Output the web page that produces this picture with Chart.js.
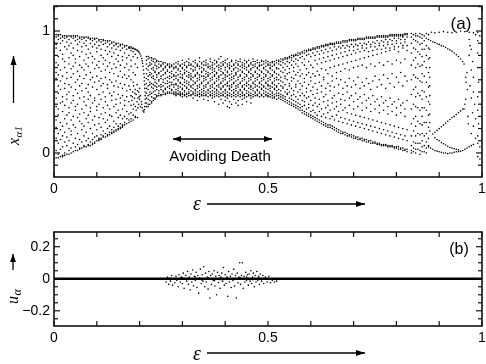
<!DOCTYPE html>
<html><head><meta charset="utf-8">
<script src="https://cdn.jsdelivr.net/npm/chart.js@4.4.0/dist/chart.umd.min.js"></script>
<style>
html,body{margin:0;padding:0;background:#fff;width:486px;height:364px;overflow:hidden}
#c1{position:absolute;left:0;top:0}
#c2{position:absolute;left:0;top:215px}
</style></head><body>
<canvas id="c1" width="486" height="215"></canvas>
<canvas id="c2" width="486" height="149"></canvas>
<script>
// ================= DATA =================
// Panel (a): columns [epsilon, x_alpha1 values in hundredths]
const colsChaosLeft = [
[0.000,[97,96,94,91,83,76,70,58,51,47,33,29,18,10,4,-2,-5]],
[0.005,[97,95,89,86,74,66,61,45,38,27,21,12,2,-4]],
[0.010,[97,96,93,79,72,64,55,49,36,31,16,8,-1,-4]],
[0.015,[97,94,90,84,68,59,52,41,25,19,11,3,-3]],
[0.020,[96,95,92,81,77,63,46,42,34,22,14,5,-2,-3]],
[0.025,[96,94,87,75,70,57,53,39,28,17,9,0,-2]],
[0.030,[96,95,91,85,66,61,48,44,31,24,13,6,-1]],
[0.035,[96,93,88,78,73,56,50,37,33,20,10,2,-1]],
[0.040,[96,95,90,82,69,62,54,41,27,18,15,4,0]],
[0.045,[96,94,86,80,71,65,47,43,30,23,8,1]],
[0.050,[96,95,92,77,74,58,52,38,35,21,12,5,2]],
[0.055,[96,93,89,84,67,60,49,40,29,16,7,2]],
[0.060,[95,94,91,79,72,63,55,45,32,26,11,4,3]],
[0.065,[95,93,87,83,70,57,51,36,24,19,9,4]],
[0.070,[95,94,90,76,68,61,46,42,33,22,14,6,5]],
[0.075,[95,92,88,81,73,64,53,39,28,17,10,5]],
[0.080,[95,94,85,78,71,56,50,44,31,25,12,7,6]],
[0.085,[94,93,90,82,66,60,47,37,34,20,9,6]],
[0.090,[94,92,87,79,74,62,54,41,27,16,11,8,7]],
[0.095,[94,93,89,77,69,58,45,43,30,23,13,9,8]],
[0.100,[94,91,86,83,72,63,52,38,35,19,14,10]],
[0.105,[93,92,88,75,70,59,48,40,29,24,12,11,10]],
[0.110,[93,91,85,80,67,61,55,44,32,21,15,12,11]],
[0.115,[93,92,89,78,73,57,50,37,28,18,14,13]],
[0.120,[92,90,84,76,68,62,46,42,33,25,16,13]],
[0.125,[92,91,87,81,71,56,53,39,27,20,15,14]],
[0.130,[92,89,83,74,66,60,49,36,31,22,17,15]],
[0.135,[91,90,86,79,69,58,47,43,30,19,17,16]],
[0.140,[91,88,82,73,65,55,50,38,26,21,18,17]],
[0.145,[90,89,85,77,70,59,44,40,33,24,19,18]],
[0.150,[90,87,80,75,63,54,48,35,29,22,20,19]],
[0.155,[89,88,84,72,67,57,45,41,31,24,21,20]],
[0.160,[89,86,79,76,62,53,47,36,28,23,22,21]],
[0.165,[88,87,82,70,64,56,43,39,30,25,23]],
[0.170,[88,85,78,73,61,51,46,34,28,24]],
[0.175,[87,86,80,68,63,55,42,32,27,25]],
[0.180,[87,84,76,71,60,33,28,26]],
[0.185,[86,83,79,66,58,31,27]],
[0.190,[85,81,73,64,30,29]],
[0.195,[84,78,70,29]]
];
// Fold curve near epsilon 0.2 (epsilon, x)
const ptsFoldCurve = [
[0.176,0.862],[0.180,0.860],[0.184,0.857],[0.188,0.853],[0.191,0.848],[0.194,0.842],[0.197,0.834],
[0.199,0.825],[0.201,0.812],[0.203,0.795],[0.205,0.775],[0.206,0.755],[0.207,0.735],[0.208,0.71],
[0.209,0.68],[0.210,0.65],[0.211,0.62],[0.211,0.59],[0.212,0.56],[0.212,0.53],[0.213,0.50],
[0.213,0.47],[0.213,0.44],[0.213,0.41],[0.212,0.38],[0.211,0.355],[0.210,0.335],[0.208,0.345],
[0.206,0.37],[0.205,0.40]
];
const ptsFoldCluster = [
[0.178,0.52],[0.180,0.47],[0.182,0.43],[0.184,0.50],[0.186,0.55],[0.186,0.40],[0.188,0.45],
[0.190,0.38],[0.190,0.52],[0.192,0.48],[0.194,0.42],[0.194,0.56],[0.196,0.37],[0.196,0.45],
[0.198,0.50],[0.198,0.40],[0.200,0.44],[0.200,0.53],[0.202,0.38],[0.202,0.47],[0.204,0.42],
[0.185,0.36],[0.180,0.39],[0.192,0.35],[0.183,0.46],[0.189,0.49],[0.195,0.51],[0.199,0.46]
];
const colsNarrowing = [
[0.216,[79,76,73,69,65,61,57,53,49,45,41,38]],
[0.220,[79,77,71,68,63,60,55,52,47,44,40,38]],
[0.224,[78,74,72,66,64,58,56,50,48,43,40]],
[0.228,[78,76,73,69,65,62,57,54,49,46,42,41]],
[0.232,[77,75,70,68,63,61,56,53,50,45,43]],
[0.236,[77,74,72,67,66,60,58,55,51,48,45,44]],
[0.240,[76,75,71,69,64,62,57,54,52,47,46]],
[0.245,[75,73,70,66,65,60,59,55,51,49,47]],
[0.250,[75,72,71,67,63,61,56,54,52,48,47]],
[0.255,[74,73,69,68,64,60,58,55,51,50,48]],
[0.260,[74,71,70,66,65,61,57,53,52,49,48]],
[0.265,[73,72,68,67,62,59,57,54,50,49]],
[0.270,[73,71,70,66,63,61,58,55,53,50,49]],
[0.275,[72,71,67,65,62,58,56,52,51,49]],
[0.280,[73,70,69,64,63,60,56,54,50,49,48]]
];
const colsBand = [
[0.285,[74,71,70,66,63,61,57,56,52,50,49,48,47]],
[0.290,[75,73,69,68,64,60,59,55,53,51,49,48]],
[0.295,[72,71,67,65,62,58,57,54,50,49,48,47]],
[0.300,[76,73,70,69,64,62,61,56,53,52,49,48,46]],
[0.305,[74,72,68,66,65,60,58,55,51,50,48,47]],
[0.310,[75,71,70,67,63,59,57,54,53,49,48,46]],
[0.315,[77,74,72,66,64,62,58,56,52,50,49,47]],
[0.320,[73,72,69,65,63,61,60,55,54,51,48,47]],
[0.325,[75,71,68,67,62,59,56,53,50,49,48,45]],
[0.330,[76,74,70,68,64,63,58,57,52,51,49,47]],
[0.335,[73,72,71,66,65,61,59,55,53,50,48,47,43]],
[0.340,[78,75,71,69,64,62,60,56,54,51,49,48,46]],
[0.345,[74,73,70,67,66,63,58,57,52,50,48,47]],
[0.350,[75,72,69,68,63,61,59,55,53,51,49,47,44]],
[0.355,[76,74,72,67,65,62,60,56,54,50,48,47]],
[0.360,[73,71,70,66,64,63,58,57,52,51,49,46,43]],
[0.365,[77,75,71,69,65,61,59,55,53,50,48,47]],
[0.370,[74,72,70,68,66,62,60,56,54,51,49,47,45]],
[0.375,[76,73,69,67,64,63,58,57,53,50,48,46,42]],
[0.380,[75,74,71,66,65,61,59,55,52,51,49,47]],
[0.385,[77,72,70,68,63,62,60,56,54,50,48,46,40]],
[0.390,[79,74,71,69,67,64,58,57,53,52,49,47,44]],
[0.395,[75,73,72,66,65,61,59,55,54,50,48,47,41]],
[0.400,[76,74,70,68,64,62,60,56,52,51,49,46,43]],
[0.405,[77,73,71,67,66,63,58,57,55,50,48,47,45,38]],
[0.410,[74,72,70,69,64,61,59,55,53,52,49,47,42,37]],
[0.415,[76,75,71,67,65,62,60,56,54,51,48,46,40]],
[0.420,[73,72,69,68,63,61,58,57,52,50,49,47,44]],
[0.425,[76,74,70,66,65,64,59,55,53,51,48,46,41]],
[0.430,[75,73,72,69,67,62,60,56,54,50,49,47,43,39]],
[0.435,[77,75,71,68,64,63,58,57,52,51,48,46]],
[0.440,[74,72,70,67,66,61,59,55,54,50,49,47,44,40]],
[0.445,[76,73,71,69,65,62,60,56,53,52,48,47,45]],
[0.450,[75,74,70,68,64,63,58,57,55,51,49,46,42]],
[0.455,[76,72,71,67,66,61,59,56,53,50,48,47]],
[0.460,[74,73,69,68,65,62,60,55,54,52,49,47,45,41]],
[0.465,[77,75,72,70,64,63,58,57,53,51,48,46]],
[0.470,[75,73,71,67,66,61,59,56,54,50,49,47]],
[0.475,[76,74,70,69,65,62,60,55,52,51,48,47]],
[0.480,[74,72,71,68,64,63,58,57,54,50,49,46]],
[0.485,[76,75,72,67,66,61,59,56,53,52,48,47]],
[0.490,[75,73,70,69,65,62,60,55,54,51,49,46]],
[0.495,[76,74,71,68,64,63,58,57,53,50,48,47]],
[0.500,[75,73,72,67,66,61,59,56,55,52,49,47,46]],
[0.505,[74,72,70,69,65,62,60,55,53,51,48,46]],
[0.510,[75,74,71,68,64,63,58,57,54,50,49,47,45]],
[0.515,[75,73,72,67,66,61,59,56,53,52,48,46,45]],
[0.520,[76,74,70,69,65,62,60,55,54,51,49,47,44]]
];
const colsWidening = [
[0.525,[76,75,73,69,64,60,57,52,49,47,45]],
[0.530,[77,75,72,67,62,59,55,51,48,46,44]],
[0.535,[77,76,74,70,66,58,54,53,47,45,43]],
[0.540,[78,77,73,68,63,61,56,50,46,44,42]],
[0.545,[78,77,75,71,65,60,52,49,48,43,41]],
[0.550,[79,78,74,69,66,57,55,50,45,42,40]],
[0.555,[80,78,76,72,62,59,53,47,44,41,39]],
[0.560,[80,79,75,70,67,61,51,48,43,40,38]],
[0.565,[81,80,77,73,64,56,54,46,42,39,37]],
[0.570,[82,80,76,71,66,59,50,44,41,38,36]],
[0.575,[82,81,78,68,63,57,52,47,40,37,35]],
[0.580,[83,82,79,74,65,55,49,43,38,35,33]],
[0.585,[84,82,77,72,61,58,47,42,39,34,32]],
[0.590,[84,83,80,69,64,53,50,45,36,33,31]],
[0.595,[85,84,81,75,66,56,46,40,37,32,30]],
[0.600,[85,84,79,72,62,59,51,43,34,31,29]],
[0.605,[86,85,82,70,65,54,48,39,35,30,28]],
[0.610,[86,85,80,76,63,57,45,41,33,29,27]],
[0.615,[87,86,83,73,67,52,49,38,31,28,26]],
[0.620,[87,86,81,77,64,58,44,40,34,27,25]],
[0.625,[88,87,84,74,69,55,50,36,30,26,24]],
[0.630,[88,87,82,78,62,60,46,42,32,25,23]],
[0.635,[89,88,85,75,68,53,48,37,29,24,22]],
[0.640,[89,88,83,79,65,57,43,39,33,23,21]],
[0.645,[90,89,86,76,70,55,51,35,28,23,21]],
[0.650,[90,89,84,80,63,59,45,41,30,22,20]],
[0.655,[90,89,87,77,71,54,47,36,27,21,19]],
[0.660,[91,90,85,81,66,61,42,38,31,20,18]],
[0.665,[91,90,87,78,72,56,49,34,26,19,17]],
[0.670,[91,90,86,82,67,60,44,40,29,18,16]],
[0.675,[92,91,88,79,73,53,48,35,25,17,16]],
[0.680,[92,91,86,83,69,58,43,37,28,17,15]],
[0.685,[92,91,88,80,74,55,50,33,24,16,14]],
[0.690,[93,92,87,84,68,61,45,39,27,15,14]],
[0.695,[93,92,89,81,75,54,47,32,23,15,13]],
[0.700,[93,92,87,84,70,59,42,36,26,14,12]],
[0.705,[93,92,89,82,76,56,49,31,22,13,12]],
[0.710,[94,93,88,85,71,62,44,38,25,13,11]],
[0.715,[94,93,90,83,77,53,46,30,21,12,11]],
[0.720,[94,93,88,86,72,58,41,35,24,12,10]],
[0.725,[94,93,90,84,78,55,48,29,20,11,10]],
[0.730,[95,94,89,86,70,61,43,37,23,11,9]],
[0.735,[95,94,91,83,79,57,45,28,19,10,9]],
[0.740,[95,94,89,87,73,52,40,34,22,10,8]],
[0.745,[95,94,91,84,80,59,47,27,18,9,8]],
[0.750,[95,94,90,87,71,63,42,36,21,9,8]],
[0.755,[96,95,92,85,81,54,44,26,17,8,7]],
[0.760,[96,95,90,88,74,60,39,33,20,8,7]],
[0.765,[96,95,92,85,82,56,46,25,16,7,6]],
[0.770,[96,95,91,88,72,64,41,35,19,7,6]],
[0.775,[96,95,93,86,83,53,43,24,15,7,6]],
[0.780,[96,95,91,89,75,61,38,32,18,6,5]],
[0.785,[97,96,93,86,84,57,45,23,14,6,5]],
[0.790,[97,96,92,89,73,65,40,34,17,6,5]],
[0.795,[97,96,94,87,85,54,42,22,13,5,4]],
[0.800,[97,96,92,90,76,62,37,31,16,5,4]],
[0.805,[97,96,94,87,83,58,44,21,12,5,3]],
[0.810,[97,96,93,90,74,66,39,33,15,4,3]],
[0.815,[97,96,95,88,86,55,41,20,11,4,2]],
[0.820,[98,97,93,91,77,63,36,30,14,3,2]],
[0.825,[98,97,95,88,84,59,43,19,10,3,1]]
];
const colsWindows = [
[0.835,[98,95,90,82,72,60,48,36,24,14,6,2,0]],
[0.840,[97,93,86,76,64,52,40,28,18,9,4,1]],
[0.845,[98,96,92,85,78,70,62,54,46,38,30,22,14,8,3,0]],
[0.850,[96,91,83,73,61,49,37,26,16,8,3]],
[0.855,[98,95,89,81,71,59,47,35,24,15,8,2,-1]],
[0.860,[97,94,90,85,79,72,65,58,51,44,37,30,23,16,10,5,1]],
[0.865,[96,92,85,75,63,50,37,25,14,6,1]],
[0.870,[98,94,88,80,70,58,46,35,25,16,9,4,0]],
[0.875,[97,93,86,77,66,54,42,31,21,12,6]]
];
// Right-hand ring structure (epsilon, x)
const ptsCircle = [
[0.882,0.99],[0.89,0.985],[0.90,0.99],[0.91,0.995],[0.92,0.99],[0.93,0.985],[0.94,0.99],[0.95,1.0],[0.96,0.995],[0.97,0.99],[0.98,0.985],[0.985,0.97],[0.99,0.99],
[0.880,0.92],[0.885,0.91],[0.890,0.905],[0.895,0.895],[0.900,0.89],[0.905,0.88],[0.910,0.875],[0.915,0.865],[0.920,0.855],[0.925,0.845],[0.930,0.835],[0.935,0.82],[0.940,0.805],[0.945,0.79],[0.950,0.77],[0.955,0.75],[0.958,0.73],
[0.962,0.62],[0.963,0.58],[0.962,0.44],[0.960,0.40],[0.958,0.36],
[0.885,0.155],[0.890,0.17],[0.895,0.185],[0.900,0.20],[0.905,0.215],[0.910,0.23],[0.915,0.245],[0.920,0.26],[0.925,0.275],[0.930,0.29],[0.935,0.30],[0.940,0.315],[0.945,0.33],[0.950,0.345],[0.955,0.36],
[0.890,0.125],[0.895,0.11],[0.900,0.10],[0.905,0.085],[0.910,0.075],[0.915,0.065],[0.920,0.055],[0.925,0.045],[0.930,0.04],[0.935,0.035],[0.940,0.03],[0.945,0.025],
[0.875,0.05],[0.880,0.04],[0.885,0.03],[0.890,0.02],[0.895,0.015],[0.900,0.01],[0.905,0.005],[0.910,0.0],[0.915,0.0],[0.920,-0.005],[0.925,0.0],[0.930,0.0],[0.935,0.005],[0.940,0.01],[0.945,0.01],[0.950,0.015],[0.955,0.02],
[0.960,0.03],[0.965,0.04],[0.970,0.05],[0.975,0.06],[0.980,0.07],
[0.970,0.93],[0.972,0.88],[0.975,0.85],[0.970,0.80],[0.978,0.75],[0.975,0.68],[0.980,0.62],[0.972,0.55],[0.980,0.50],[0.975,0.45],[0.983,0.40],[0.978,0.33],[0.985,0.28],[0.980,0.22],[0.975,0.16],[0.985,0.12],
[0.990,0.92],[0.990,0.82],[0.990,0.70],[0.992,0.58],[0.990,0.46],[0.990,0.35],[0.992,0.24],[0.990,0.14],[0.990,0.08],[0.995,0.96],[0.995,0.05],[0.995,-0.05],[0.990,-0.03],
[0.878,0.85],[0.878,0.78],[0.878,0.70],[0.878,0.62],[0.878,0.55],[0.878,0.47],[0.878,0.40],[0.878,0.32],[0.878,0.25],[0.878,0.18],
[0.965,0.66],[0.966,0.52],[0.967,0.30],[0.968,0.24]
];
// Panel (b): u_alpha (epsilon, u)
const ptsU = [
[.262,-.02],[.265,.01],[.268,-.035],[.27,.005],[.272,-.015],[.275,.02],[.277,-.04],[.28,.0],[.282,-.025],[.285,.015],
[.287,-.01],[.29,-.05],[.292,.025],[.295,-.02],[.297,.01],[.3,-.03],[.302,.035],[.304,-.06],[.306,.0],[.308,.02],
[.31,-.015],[.312,.045],[.314,-.035],[.316,.01],[.318,-.07],[.32,.03],[.322,-.02],[.324,.055],[.326,-.045],[.328,.015],
[.33,-.01],[.332,.04],[.334,-.055],[.336,.02],[.338,-.09],[.34,.005],[.342,.06],[.344,-.03],[.346,.025],[.348,-.015],
[.35,.075],[.352,-.05],[.354,.035],[.356,-.02],[.358,.01],[.36,-.065],[.362,.045],[.364,-.12],[.366,.02],[.368,-.035],
[.37,.03],[.372,-.01],[.374,.05],[.376,-.045],[.378,.015],[.38,-.1],[.382,.04],[.384,-.025],[.386,.02],[.388,-.06],
[.39,.01],[.392,.035],[.394,-.015],[.396,.07],[.398,-.04],[.4,.025],[.402,-.03],[.404,.01],[.406,-.11],[.408,.045],
[.41,-.02],[.412,.015],[.414,-.055],[.416,.03],[.418,-.01],[.42,.06],[.422,-.045],[.424,.02],[.426,-.12],[.428,.035],
[.43,-.025],[.432,.01],[.434,.1],[.436,-.035],[.438,.02],[.44,.1],[.442,-.06],[.444,.015],[.446,-.02],[.448,.04],
[.45,-.01],[.452,.025],[.454,-.04],[.456,.03],[.458,-.015],[.46,.05],[.462,-.03],[.464,.01],[.466,.035],[.468,-.05],
[.47,.02],[.472,-.02],[.474,.045],[.476,-.01],[.478,.015],[.48,-.035],[.482,.03],[.485,-.015],[.488,.02],[.49,-.03],
[.494,.01],[.498,-.02],[.502,.015],[.506,-.025],[.51,-.01],[.515,-.02],[.52,-.015],
[.27,-.005],[.285,-.005],[.30,.008],[.315,-.005],[.33,.012],[.345,-.008],[.36,.006],[.375,-.012],[.39,-.006],[.405,.008],
[.42,-.004],[.435,.006],[.45,.01],[.465,-.006],[.48,.004]
];
const zeroLineEps = [0, 1];

// Axis ticks and labels
const xTickVals = [0,0.1,0.2,0.3,0.4,0.5,0.6,0.7,0.8,0.9,1];
const xLabelVals = [0,0.5,1];
const xLabelText = ['0','0.5','1'];
const yTopTickVals = [-0.1,0,0.1,0.2,0.3,0.4,0.5,0.6,0.7,0.8,0.9,1,1.1,1.2];
const yTopLabelVals = [0,1];
const yTopLabelText = ['0','1'];
const yBotTickVals = [-0.25,-0.2,-0.15,-0.1,-0.05,0,0.05,0.1,0.15,0.2,0.25];
const yBotLabelVals = [-0.2,0,0.2];
const yBotLabelText = ['\u22120.2','0','0.2'];

// ================= DRAWING =================
const SANS = '"Liberation Sans", Arial, Helvetica, sans-serif';
const SERIF = '"Liberation Serif", "Times New Roman", serif';

function fromCols(cols){ const out=[]; for(const [e,vals] of cols) for(const v of vals) out.push({x:e,y:v/100}); return out; }
function fromPts(pts){ return pts.map(([e,v])=>({x:e,y:v})); }

const topPoints = [].concat(fromCols(colsChaosLeft), fromPts(ptsFoldCurve), fromPts(ptsFoldCluster),
  fromCols(colsNarrowing), fromCols(colsBand), fromCols(colsWidening), fromCols(colsWindows), fromPts(ptsCircle));

function arrow(ctx,x1,y1,x2,y2,hl,hw){
  ctx.beginPath(); ctx.moveTo(x1,y1); ctx.lineTo(x2,y2); ctx.stroke();
  const a=Math.atan2(y2-y1,x2-x1), c=Math.cos(a), s=Math.sin(a);
  ctx.beginPath(); ctx.moveTo(x2,y2);
  ctx.lineTo(x2-hl*c+hw*s, y2-hl*s-hw*c);
  ctx.lineTo(x2-hl*c-hw*s, y2-hl*s+hw*c);
  ctx.closePath(); ctx.fill();
}
function seg(ctx,x1,y1,x2,y2){ctx.beginPath();ctx.moveTo(x1,y1);ctx.lineTo(x2,y2);ctx.stroke();}

function frameTicks(chart, yVals, yMajor){
  const {ctx, chartArea:a, scales:{x,y}} = chart;
  ctx.save(); ctx.strokeStyle='#111'; ctx.lineWidth=1.2;
  for(const v of xTickVals){ const px=x.getPixelForValue(v); seg(ctx,px,a.bottom,px,a.bottom-5); seg(ctx,px,a.top,px,a.top+5); }
  for(const v of yVals){ const py=y.getPixelForValue(v); const L=yMajor.includes(v)?6:4;
    seg(ctx,a.left,py,a.left+L,py); seg(ctx,a.right,py,a.right-L,py); }
  ctx.lineWidth=1.6; ctx.strokeRect(a.left,a.top,a.right-a.left,a.bottom-a.top);
  ctx.restore();
}

function makeScales(ymin,ymax,yLabVals,yLabText,h){
  return {
    x:{type:'linear',min:0,max:1,grid:{display:false,drawTicks:false},border:{display:false},
      ticks:{color:'#000',font:{family:SANS,size:14},padding:4,maxRotation:0,autoSkip:false,
        callback:(v,i)=>xLabelText[i]},
      afterBuildTicks:s=>{s.ticks=xLabelVals.map(v=>({value:v}));},
      afterFit:s=>{s.height=h;s.paddingLeft=0;s.paddingRight=0;}},
    y:{type:'linear',min:ymin,max:ymax,grid:{display:false,drawTicks:false},border:{display:false},
      ticks:{color:'#000',font:{family:SANS,size:14},padding:4,autoSkip:false,
        callback:(v,i)=>yLabText[i]},
      afterBuildTicks:s=>{s.ticks=yLabVals.map(v=>({value:v}));},
      afterFit:s=>{s.width=54;s.paddingTop=0;s.paddingBottom=0;}}
  };
}

const deco1 = {id:'deco1', afterDatasetsDraw(chart){
  const ctx=chart.ctx;
  frameTicks(chart, yTopTickVals, yTopLabelVals);
  ctx.save(); ctx.fillStyle='#000'; ctx.strokeStyle='#000'; ctx.lineWidth=1.3;
  ctx.font='17px '+SANS; ctx.textAlign='center'; ctx.textBaseline='middle';
  ctx.fillText('(a)',461,24);
  ctx.font='15px '+SANS; ctx.fillText('Avoiding Death',220,157);
  arrow(ctx,222,139,272,139,8,3); arrow(ctx,222,139,173,139,8,3);
  ctx.font='italic 20px '+SERIF; ctx.textBaseline='alphabetic'; ctx.fillText('\u03b5',197,210);
  arrow(ctx,207,204,365,204,9,3);
  arrow(ctx,13.5,103,13.5,56,9,3);
  ctx.save(); ctx.translate(18.5,145); ctx.rotate(-Math.PI/2); ctx.textAlign='left';
  ctx.font='italic 16px '+SERIF; ctx.fillText('x',0,0);
  const w=ctx.measureText('x').width;
  ctx.font='italic 11px '+SERIF; ctx.fillText('\u03b11',w+0.5,3);
  ctx.restore();
  ctx.restore();
}};

const deco2 = {id:'deco2', afterDatasetsDraw(chart){
  const ctx=chart.ctx;
  frameTicks(chart, yBotTickVals, yBotLabelVals);
  ctx.save(); ctx.fillStyle='#000'; ctx.strokeStyle='#000'; ctx.lineWidth=1.3;
  ctx.font='16px '+SANS; ctx.textAlign='center'; ctx.textBaseline='middle';
  ctx.fillText('(b)',459,35);
  ctx.font='italic 20px '+SERIF; ctx.textBaseline='alphabetic'; ctx.fillText('\u03b5',197,145);
  arrow(ctx,207,138,365,138,9,3);
  arrow(ctx,13,55,13,39,8,3);
  ctx.save(); ctx.translate(18,89); ctx.rotate(-Math.PI/2); ctx.textAlign='left';
  ctx.font='italic 16px '+SERIF; ctx.fillText('u',0,0);
  const w=ctx.measureText('u').width;
  ctx.font='italic 12px '+SERIF; ctx.fillText('\u03b1',w+0.5,3);
  ctx.restore();
  ctx.restore();
}};

const baseOpts = {responsive:false,animation:false,events:[],
  plugins:{legend:{display:false},tooltip:{enabled:false},title:{display:false}}};

new Chart(document.getElementById('c1'),{
  type:'scatter',
  data:{datasets:[{data:topPoints,pointRadius:0.8,pointBackgroundColor:'#000',pointBorderWidth:0,showLine:false}]},
  options:Object.assign({},baseOpts,{layout:{padding:{left:0,right:2,top:6,bottom:0}},
    scales:makeScales(-0.197,1.205,yTopLabelVals,yTopLabelText,38)}),
  plugins:[deco1]
});

new Chart(document.getElementById('c2'),{
  type:'scatter',
  data:{datasets:[
    {type:'line',data:zeroLineEps.map(e=>({x:e,y:0})),borderColor:'#000',borderWidth:2.6,pointRadius:0,fill:false},
    {data:fromPts(ptsU),pointRadius:0.8,pointBackgroundColor:'#000',pointBorderWidth:0,showLine:false}
  ]},
  options:Object.assign({},baseOpts,{layout:{padding:{left:0,right:2,top:17,bottom:0}},
    scales:makeScales(-0.295,0.292,yBotLabelVals,yBotLabelText,38)}),
  plugins:[deco2]
});
</script>
</body></html>
